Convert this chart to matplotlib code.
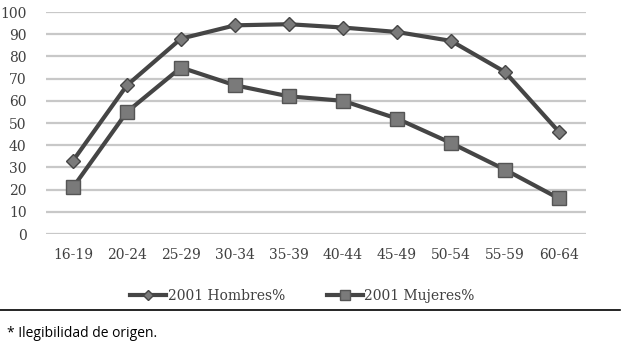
import matplotlib.pyplot as plt
from matplotlib.lines import Line2D

# Data
AGE_GROUPS = ["16-19", "20-24", "25-29", "30-34", "35-39",
              "40-44", "45-49", "50-54", "55-59", "60-64"]
HOMBRES = [33, 67, 88, 94, 94.5, 93, 91, 87, 73, 46]
MUJERES = [21, 55, 75, 67, 62, 60, 52, 41, 29, 16]
Y_TICKS = list(range(0, 101, 10))

fig = plt.figure(figsize=(6.23, 3.47), dpi=100)
ax = fig.add_axes([0.0738, 0.3256, 0.8668, 0.6398])

x = range(len(AGE_GROUPS))
ax.plot(x, HOMBRES, color="#454545", linewidth=3, marker="D", markersize=7,
        markerfacecolor="#7a7a7a", markeredgecolor="#454545", markeredgewidth=1,
        label="2001 Hombres%", zorder=3)
ax.plot(x, MUJERES, color="#454545", linewidth=3, marker="s", markersize=10,
        markerfacecolor="#7a7a7a", markeredgecolor="#555555", markeredgewidth=1,
        label="2001 Mujeres%", zorder=3)

ax.set_xlim(-0.5, len(AGE_GROUPS) - 0.5)
ax.set_ylim(0, 100)
ax.set_yticks(Y_TICKS)
ax.set_xticks(list(x))
ax.set_xticklabels(AGE_GROUPS)
ax.yaxis.grid(True, color="#c8c8c8", linewidth=1.6)
ax.set_axisbelow(True)
for s in ax.spines.values():
    s.set_visible(False)
ax.tick_params(length=0, labelsize=10, labelcolor="#404040", pad=14)
ax.tick_params(axis="x", pad=10)
for lab in ax.get_xticklabels() + ax.get_yticklabels():
    lab.set_family("DejaVu Serif")

leg = ax.legend(loc="upper center", bbox_to_anchor=(0.475, -0.19), ncol=2,
                frameon=False, fontsize=10, handlelength=2.6, handletextpad=0.1,
                columnspacing=3.0, markerscale=0.7)
for t in leg.get_texts():
    t.set_family("DejaVu Serif")
    t.set_color("#404040")

fig.add_artist(Line2D([0.0, 0.995], [0.1066, 0.1066], color="black", linewidth=1.2,
                      transform=fig.transFigure))
fig.text(0.011, 0.04, "* Ilegibilidad de origen.", fontsize=10,
         family="Open Sans", color="black", va="center")

fig.savefig("out.png", dpi=100)
